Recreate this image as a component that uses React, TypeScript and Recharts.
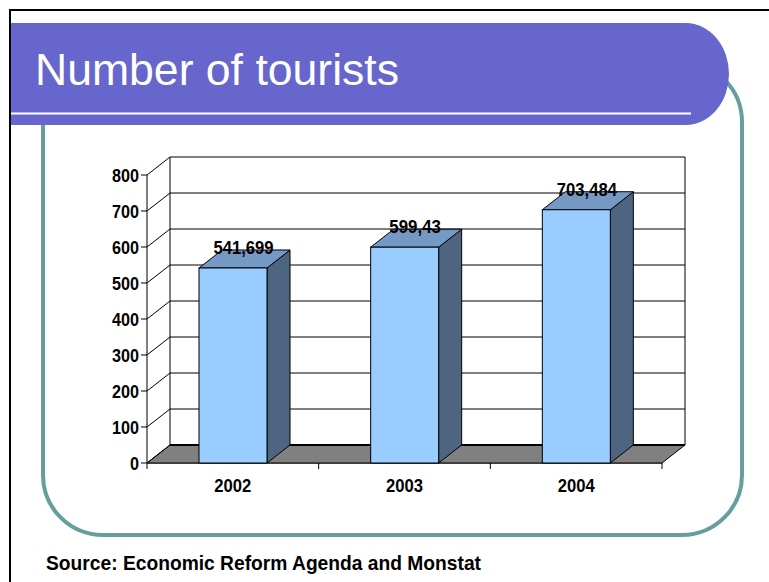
import { BarChart, Bar, XAxis, YAxis, LabelList } from "recharts";

const years = ["2002", "2003", "2004"];
const tourists = [541.699, 599.43, 703.484];
const valueLabels = ["541,699", "599,43", "703,484"];
const yTicks = [0, 100, 200, 300, 400, 500, 600, 700, 800];

const data = years.map((year, i) => ({
    year,
    value: tourists[i],
    label: valueLabels[i],
}));

// layout of the front plane of the 3d chart
const W = 769;
const H = 582;
const PL = 147;
const PR = 662;
const PT = 175;
const PB = 463;
const DX = 23;
const DY = 18;
const BAND = (PR - PL) / years.length;
const FONT = "'Liberation Sans', Arial, sans-serif";

const FRONT = "#99CCFF";
const TOP = "#7499C4";
const SIDE = "#4E6581";

// narrow bold text, like the original slide font
const NarrowText = (props: any) => {
    const { children, perChar, ...rest } = props;
    const s = String(children);
    return (
        <text
            fontFamily={FONT}
            fontWeight='bold'
            fill='#000'
            textLength={s.length * perChar}
            lengthAdjust='spacingAndGlyphs'
            {...rest}
        >
            {s}
        </text>
    );
};

const YTick = (props: any) => {
    const { y, payload } = props;
    const v = payload.value;
    return (
        <g>
            {v === 0 && (
                <g>
                    <polygon
                        points={`${PL},${y} ${PR},${y} ${PR + DX},${y - DY} ${PL + DX},${y - DY}`}
                        fill='#808080'
                        stroke='#000'
                        strokeWidth={1}
                    />
                    <line x1={PL + DX} y1={PT - DY} x2={PL + DX} y2={y - DY} stroke='#000' />
                    <line x1={PR + DX} y1={PT - DY} x2={PR + DX} y2={y - DY} stroke='#000' />
                </g>
            )}
            <line x1={PL} y1={y} x2={PL + DX} y2={y - DY} stroke='#000' />
            <line
                x1={PL + DX}
                y1={y - DY}
                x2={PR + DX}
                y2={y - DY}
                stroke='#000'
                strokeWidth={v === 0 ? 2 : 1}
            />
            <line x1={PL - 6} y1={y} x2={PL} y2={y} stroke='#000' />
            <NarrowText x={PL - 8} y={y + 6.5} textAnchor='end' fontSize={18} perChar={9}>
                {v}
            </NarrowText>
        </g>
    );
};

const XTick = (props: any) => {
    const { x, index, payload } = props;
    const left = x - BAND / 2;
    const right = x + BAND / 2;
    return (
        <g>
            <line x1={left} y1={PB} x2={left} y2={PB + 6} stroke='#000' />
            {index === years.length - 1 && (
                <line x1={right} y1={PB} x2={right} y2={PB + 6} stroke='#000' />
            )}
            <NarrowText x={x} y={PB + 29} textAnchor='middle' fontSize={18} perChar={9.25}>
                {payload.value}
            </NarrowText>
        </g>
    );
};

const Bar3D = (props: any) => {
    const { x, y, width, height } = props;
    if (width == null || height == null) return null;
    return (
        <g stroke='#000' strokeWidth={1}>
            <polygon
                points={`${x + width},${y} ${x + width + DX},${y - DY} ${x + width + DX},${y + height - DY} ${x + width},${y + height}`}
                fill={SIDE}
            />
            <polygon
                points={`${x},${y} ${x + width},${y} ${x + width + DX},${y - DY} ${x + DX},${y - DY}`}
                fill={TOP}
            />
            <rect x={x} y={y} width={width} height={height} fill={FRONT} />
        </g>
    );
};

const BarValue = (props: any) => {
    const { x, y, width, value } = props;
    return (
        <NarrowText
            x={x + width / 2 + DX / 2 - 1}
            y={y - 14}
            textAnchor='middle'
            fontSize={18}
            perChar={8.6}
        >
            {value}
        </NarrowText>
    );
};

export default function App() {
    return (
        <div
            style={{
                position: "absolute",
                left: 0,
                top: 0,
                width: W,
                height: H,
                background: "#fff",
                overflow: "hidden",
            }}
        >
            <svg width={W} height={H} style={{ position: "absolute", left: 0, top: 0 }}>
                <line x1={9} y1={10} x2={W} y2={10} stroke='#000' strokeWidth={2} />
                <line x1={10} y1={9} x2={10} y2={H} stroke='#000' strokeWidth={2} />
                <rect
                    x={43}
                    y={62}
                    width={699}
                    height={473}
                    rx={60}
                    ry={60}
                    fill='none'
                    stroke='#669E9E'
                    strokeWidth={4}
                />
                <path
                    d='M 11 23 L 686 23 A 43 51 0 0 1 686 125 L 11 125 Z'
                    fill='#6666CC'
                />
                <line x1={11} y1={113.5} x2={691} y2={113.5} stroke='#fff' strokeWidth={2} />
                <text
                    x={35}
                    y={85}
                    fontFamily={FONT}
                    fontSize={44}
                    fill='#fff'
                    textLength={364}
                    lengthAdjust='spacingAndGlyphs'
                >
                    Number of tourists
                </text>
                <text
                    x={46}
                    y={570}
                    fontFamily={FONT}
                    fontWeight='bold'
                    fontSize={21}
                    fill='#000'
                    textLength={435}
                    lengthAdjust='spacingAndGlyphs'
                >
                    Source: Economic Reform Agenda and Monstat
                </text>
            </svg>

            <div style={{ position: "absolute", left: 0, top: 0 }}>
                <BarChart
                    width={W}
                    height={H}
                    data={data}
                    margin={{ top: PT, right: W - PR, bottom: H - PB - 30, left: PL - 60 }}
                >
                    <XAxis
                        dataKey='year'
                        height={30}
                        tickLine={false}
                        axisLine={{ stroke: "#000" }}
                        tick={<XTick />}
                        interval={0}
                    />
                    <YAxis
                        width={60}
                        domain={[0, 800]}
                        ticks={yTicks}
                        tickLine={false}
                        axisLine={{ stroke: "#000" }}
                        tick={<YTick />}
                        interval={0}
                    />
                    <Bar dataKey='value' fill='transparent' barSize={68} isAnimationActive={false} />
                </BarChart>
            </div>

            <div style={{ position: "absolute", left: 0, top: 0 }}>
                <BarChart
                    width={W}
                    height={H}
                    data={data}
                    margin={{ top: PT, right: W - PR, bottom: H - PB, left: PL }}
                >
                    <XAxis dataKey='year' hide />
                    <YAxis domain={[0, 800]} ticks={yTicks} hide />
                    <Bar
                        dataKey='value'
                        barSize={68}
                        shape={<Bar3D />}
                        isAnimationActive={false}
                    >
                        <LabelList dataKey='label' content={<BarValue />} />
                    </Bar>
                </BarChart>
            </div>
        </div>
    );
}
